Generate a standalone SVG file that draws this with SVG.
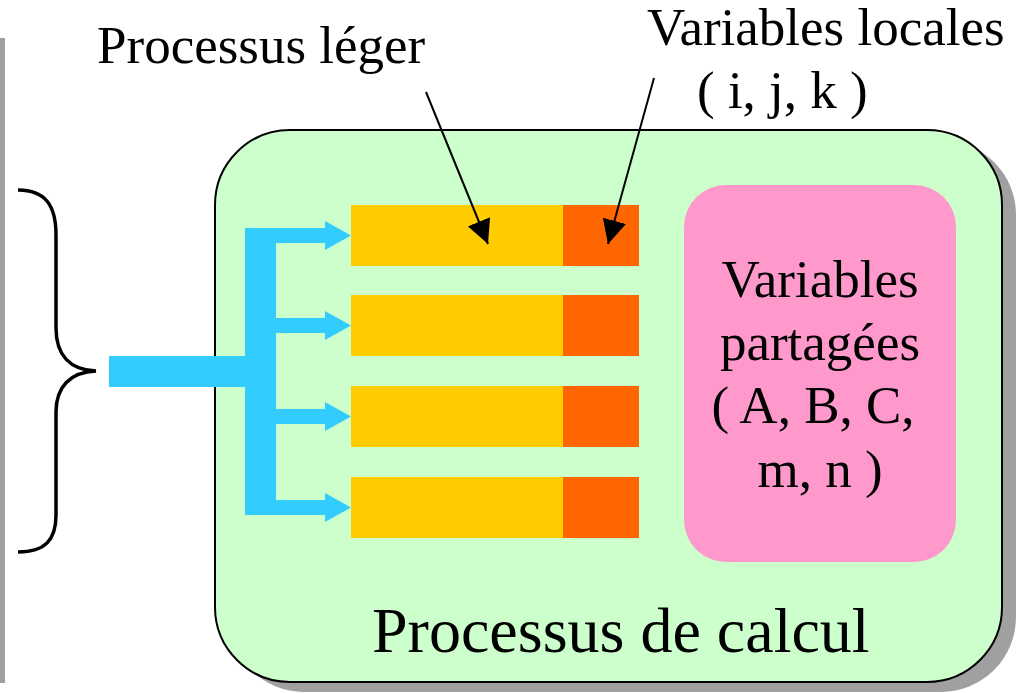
<svg xmlns="http://www.w3.org/2000/svg" width="1024" height="693" viewBox="0 0 1024 693">
  <defs>
    <marker id="head" viewBox="0 0 24 24" refX="24" refY="12" markerWidth="24" markerHeight="24" markerUnits="userSpaceOnUse" orient="auto">
      <path d="M0,0 L24,12 L0,24 z" fill="#000"/>
    </marker>
    <style>
      text { font-family: "Liberation Serif", "Times New Roman", serif; fill: #000; }
      .lbl { font-size: 53px; }
      .big { font-size: 64px; }
      .thread { fill: #ffcc00; }
      .local { fill: #ff6600; }
      .flow { fill: #33ccff; }
      .ptr { stroke: #000; stroke-width: 2; fill: none; marker-end: url(#head); }
    </style>
  </defs>

  <rect width="1024" height="693" fill="#fff"/>

  <!-- left margin bar -->
  <rect x="0" y="38" width="5" height="645" fill="#a0a0a0"/>

  <!-- brace -->
  <path id="brace" d="M18,190 C45,190 56,205 56,235 L56,328 C56,355 70,370 96,371 C70,372 56,387 56,412 L56,515 C56,540 45,552 18,552" fill="none" stroke="#000" stroke-width="3.5"/>

  <!-- compute process container -->
  <g id="processus-calcul">
    <rect x="229" y="140" width="787" height="552" rx="75" ry="75" fill="#a0a0a0"/>
    <rect x="215" y="130" width="787" height="552" rx="75" ry="75" fill="#ccffcc" stroke="#000" stroke-width="2"/>
    <text class="big" x="372" y="652">Processus de calcul</text>
  </g>

  <!-- shared variables -->
  <g id="variables-partagees">
    <rect x="684" y="185" width="272" height="377" rx="42" ry="42" fill="#ff99cc"/>
    <text class="lbl" text-anchor="middle" x="820" y="297">Variables</text>
    <text class="lbl" text-anchor="middle" x="820" y="360">partagées</text>
    <text class="lbl" text-anchor="middle" x="813" y="423">( A, B, C,</text>
    <text class="lbl" text-anchor="middle" x="820" y="487">m, n )</text>
  </g>

  <!-- lightweight threads -->
  <g id="thread-1">
    <rect class="thread" x="351" y="205" width="212" height="61"/>
    <rect class="local" x="563" y="205" width="76" height="61"/>
  </g>
  <g id="thread-2">
    <rect class="thread" x="351" y="295" width="212" height="61"/>
    <rect class="local" x="563" y="295" width="76" height="61"/>
  </g>
  <g id="thread-3">
    <rect class="thread" x="351" y="386" width="212" height="61"/>
    <rect class="local" x="563" y="386" width="76" height="61"/>
  </g>
  <g id="thread-4">
    <rect class="thread" x="351" y="477" width="212" height="61"/>
    <rect class="local" x="563" y="477" width="76" height="61"/>
  </g>

  <!-- labels -->
  <g id="label-processus-leger">
    <text class="lbl" x="97" y="63">Processus léger</text>
  </g>
  <g id="label-variables-locales">
    <text class="lbl" x="647" y="45">Variables locales</text>
    <text class="lbl" x="697" y="108">( i, j, k )</text>
  </g>

  <!-- connectors -->
  <g id="connectors">
    <!-- fan-out into the threads -->
    <rect class="flow" x="109" y="356" width="140" height="31"/>
    <rect class="flow" x="245" y="228" width="31" height="287"/>
    <path class="flow" d="M276,228 L325,228 L325,221 L351,235.5 L325,250 L325,243 L276,243 z"/>
    <path class="flow" d="M276,318 L325,318 L325,311 L351,325.5 L325,340 L325,333 L276,333 z"/>
    <path class="flow" d="M276,409 L325,409 L325,402 L351,416.5 L325,431 L325,424 L276,424 z"/>
    <path class="flow" d="M276,500 L325,500 L325,493 L351,507.5 L325,522 L325,515 L276,515 z"/>
    <!-- label pointers -->
    <line class="ptr" x1="426" y1="92" x2="488" y2="244"/>
    <line class="ptr" x1="654" y1="78" x2="608" y2="244"/>
  </g>
</svg>
